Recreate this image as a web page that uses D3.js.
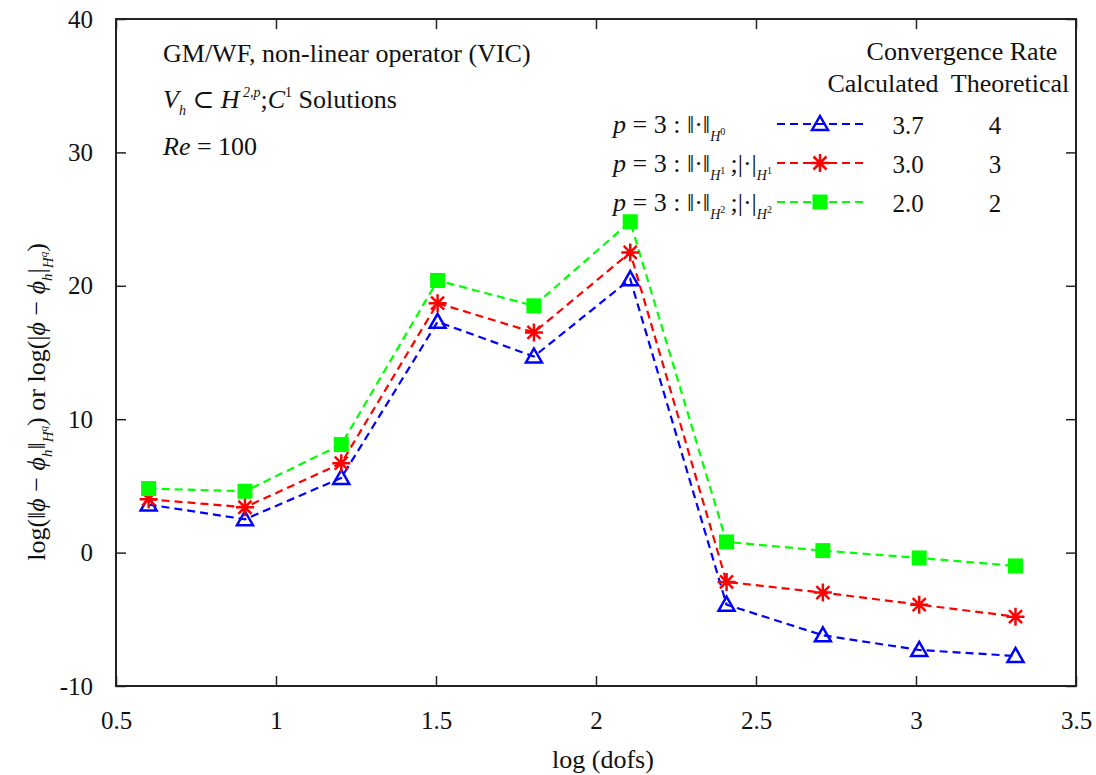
<!DOCTYPE html>
<html>
<head>
<meta charset="utf-8">
<script src="https://cdn.jsdelivr.net/npm/d3@7"></script>
<style>
  body { margin: 0; background: #fff; }
</style>
</head>
<body>
<div id="chart"></div>
<script>
// data
var logDofs = [0.602, 0.903, 1.204, 1.505, 1.806, 2.107, 2.408, 2.709, 3.010, 3.311];
var errH0 = [3.6, 2.5, 5.6, 17.3, 14.7, 20.5, -3.9, -6.2, -7.3, -7.75];
var errH1 = [4.0, 3.4, 6.7, 18.7, 16.5, 22.5, -2.2, -3.0, -3.9, -4.8];
var errH2 = [4.8, 4.6, 8.1, 20.4, 18.5, 24.8, 0.8, 0.15, -0.4, -1.0];
var calcRates = ["3.7", "3.0", "2.0"];
var theoRates = ["4", "3", "2"];
var xTicks = [0.5, 1, 1.5, 2, 2.5, 3, 3.5];
var yTicks = [-10, 0, 10, 20, 30, 40];

var W = 1096, H = 775;
var margin = {left: 116, right: 20, top: 19, bottom: 89};
var serif = "'Liberation Serif', 'Times New Roman', 'DejaVu Serif', serif";

var svg = d3.select("#chart").append("svg")
    .attr("width", W)
    .attr("height", H)
    .style("font-family", serif);

var x = d3.scaleLinear().domain([0.5, 3.5]).range([margin.left, W - margin.right]);
var y = d3.scaleLinear().domain([-10, 40]).range([H - margin.bottom, margin.top]);

var series = [
    {vals: errH0, color: "#0000ff", marker: "triangle"},
    {vals: errH1, color: "#ff0000", marker: "star"},
    {vals: errH2, color: "#00ff00", marker: "square"}
];

// axes with inward ticks, mirrored
function styleAxis(g) {
    g.attr("font-family", serif).attr("font-size", 25);
    g.select(".domain").remove();
    g.selectAll(".tick line").attr("stroke", "#222").attr("stroke-width", 1.5);
    g.selectAll(".tick text")
        .attr("fill", "#111")
        .style("font-family", serif)
        .style("font-size", "25px");
}
var plain = function (d) { return String(d); };
svg.append("g")
    .attr("transform", "translate(0," + y(-10) + ")")
    .call(d3.axisBottom(x).tickValues(xTicks).tickSizeInner(-10).tickPadding(25).tickFormat(plain))
    .call(styleAxis);
svg.append("g")
    .attr("transform", "translate(0," + y(40) + ")")
    .call(d3.axisTop(x).tickValues(xTicks).tickSizeInner(-10).tickFormat(""))
    .call(styleAxis);
svg.append("g")
    .attr("transform", "translate(" + x(0.5) + ",0)")
    .call(d3.axisLeft(y).tickValues(yTicks).tickSizeInner(-10).tickPadding(23).tickFormat(plain))
    .call(styleAxis);
svg.append("g")
    .attr("transform", "translate(" + x(3.5) + ",0)")
    .call(d3.axisRight(y).tickValues(yTicks).tickSizeInner(-10).tickFormat(""))
    .call(styleAxis);

svg.append("rect")
    .attr("x", x(0.5)).attr("y", y(40))
    .attr("width", x(3.5) - x(0.5)).attr("height", y(-10) - y(40))
    .attr("fill", "none").attr("stroke", "#222").attr("stroke-width", 2);

// markers
function drawMarker(g, type, color) {
    if (type === "triangle") {
        g.append("path").attr("d", "M0,-8L8,6L-8,6Z")
            .attr("fill", "none").attr("stroke", color).attr("stroke-width", 2.5);
    } else if (type === "star") {
        g.append("path").attr("d", "M0,-9V9M-9,0H9M-6.5,-6.5L6.5,6.5M-6.5,6.5L6.5,-6.5")
            .attr("stroke", color).attr("stroke-width", 2.5);
    } else {
        g.append("rect").attr("x", -7.5).attr("y", -7.5).attr("width", 15).attr("height", 15)
            .attr("fill", color);
    }
}

var line = d3.line()
    .x(function (d, i) { return x(logDofs[i]); })
    .y(function (d) { return y(d); });

series.forEach(function (s) {
    svg.append("path")
        .datum(s.vals)
        .attr("d", line)
        .attr("fill", "none")
        .attr("stroke", s.color)
        .attr("stroke-width", 2.2)
        .attr("stroke-dasharray", "8,5");
});
series.forEach(function (s) {
    s.vals.forEach(function (v, i) {
        var g = svg.append("g").attr("transform", "translate(" + x(logDofs[i]) + "," + y(v) + ")");
        drawMarker(g, s.marker, s.color);
    });
});

// annotations top-left
var note = svg.append("g").attr("font-size", 26).attr("fill", "#111");
note.append("text").attr("x", 163).attr("y", 62).text("GM/WF, non-linear operator (VIC)");
var t2 = note.append("text").attr("x", 163).attr("y", 108);
t2.append("tspan").style("font-style", "italic").text("V");
t2.append("tspan").attr("dy", 7).attr("font-size", 14).style("font-style", "italic").text("h");
t2.append("tspan").attr("dy", -7).text(" \u2282 ");
t2.append("tspan").style("font-style", "italic").text("H");
t2.append("tspan").attr("dy", -11).attr("font-size", 14).style("font-style", "italic").text(" 2,p");
t2.append("tspan").attr("dy", 11).text(";");
t2.append("tspan").style("font-style", "italic").text("C");
t2.append("tspan").attr("dy", -11).attr("font-size", 14).text("1");
t2.append("tspan").attr("dy", 11).text(" Solutions");
var t3 = note.append("text").attr("x", 163).attr("y", 155);
t3.append("tspan").style("font-style", "italic").text("Re");
t3.append("tspan").text(" = 100");

// legend
var leg = svg.append("g").attr("font-size", 26).attr("fill", "#111");
leg.append("text").attr("x", 962).attr("y", 60).attr("text-anchor", "middle").text("Convergence Rate");
leg.append("text").attr("x", 883).attr("y", 92).attr("text-anchor", "middle").text("Calculated");
leg.append("text").attr("x", 1010).attr("y", 92).attr("text-anchor", "middle").text("Theoretical");

var legSubs = [["H", "0", null], ["H", "1", "1"], ["H", "2", "2"]];
var legY = [124, 163, 202];
series.forEach(function (s, i) {
    var ly = legY[i];
    var lt = leg.append("text").attr("x", 613).attr("y", ly + 9);
    lt.append("tspan").style("font-style", "italic").text("p");
    lt.append("tspan").text(" = 3 : \u2016\u00b7\u2016");
    lt.append("tspan").attr("dy", 8).attr("font-size", 14).style("font-style", "italic").text("H");
    lt.append("tspan").attr("dy", -6).attr("font-size", 10).text(legSubs[i][1]);
    if (legSubs[i][2]) {
        lt.append("tspan").attr("dy", -2).text("\u2009;|\u00b7|");
        lt.append("tspan").attr("dy", 8).attr("font-size", 14).style("font-style", "italic").text("H");
        lt.append("tspan").attr("dy", -6).attr("font-size", 10).text(legSubs[i][2]);
    }
    leg.append("line")
        .attr("x1", 777).attr("x2", 864).attr("y1", ly).attr("y2", ly)
        .attr("stroke", s.color).attr("stroke-width", 2.2).attr("stroke-dasharray", "8,5");
    var mg = leg.append("g").attr("transform", "translate(820," + ly + ")");
    drawMarker(mg, s.marker, s.color);
    leg.append("text").attr("x", 908).attr("y", ly + 10).attr("font-size", 25).attr("text-anchor", "middle").text(calcRates[i]);
    leg.append("text").attr("x", 995).attr("y", ly + 10).attr("font-size", 25).attr("text-anchor", "middle").text(theoRates[i]);
});

// axis titles
svg.append("text")
    .attr("x", 603).attr("y", 768)
    .attr("text-anchor", "middle")
    .attr("font-size", 26)
    .attr("fill", "#111")
    .text("log (dofs)");

var yl = svg.append("text")
    .attr("transform", "translate(45,402) rotate(-90)")
    .attr("text-anchor", "middle")
    .attr("fill", "#111")
    .attr("font-size", 26);
yl.append("tspan").text("log(\u2016");
yl.append("tspan").style("font-style", "italic").text("\u03d5");
yl.append("tspan").text(" \u2212 ");
yl.append("tspan").style("font-style", "italic").text("\u03d5");
yl.append("tspan").attr("dy", 7).attr("font-size", 15).style("font-style", "italic").text("h");
yl.append("tspan").attr("dy", -7).text("\u2016");
yl.append("tspan").attr("dy", 8).attr("font-size", 15).style("font-style", "italic").text("H");
yl.append("tspan").attr("dy", -6).attr("font-size", 11).style("font-style", "italic").text("q");
yl.append("tspan").attr("dy", -2).text(")  or  log(|");
yl.append("tspan").style("font-style", "italic").text("\u03d5");
yl.append("tspan").text(" \u2212 ");
yl.append("tspan").style("font-style", "italic").text("\u03d5");
yl.append("tspan").attr("dy", 7).attr("font-size", 15).style("font-style", "italic").text("h");
yl.append("tspan").attr("dy", -7).text("|");
yl.append("tspan").attr("dy", 8).attr("font-size", 15).style("font-style", "italic").text("H");
yl.append("tspan").attr("dy", -6).attr("font-size", 11).style("font-style", "italic").text("q");
yl.append("tspan").attr("dy", -2).text(")");
</script>
</body>
</html>
